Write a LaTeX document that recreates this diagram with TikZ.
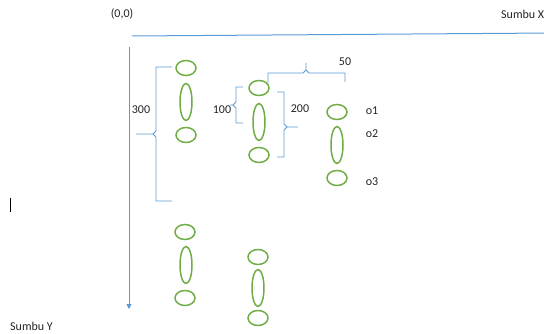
\documentclass[tikz,border=0pt]{standalone}
\usepackage{fontspec}
\setmainfont{Carlito}
\usetikzlibrary{shapes.geometric,arrows.meta}
\definecolor{axisblue}{RGB}{91,155,213}
\definecolor{ovalgreen}{RGB}{112,173,71}
\definecolor{txt}{RGB}{35,35,35}
\begin{document}
\begin{tikzpicture}[x=1pt,y=-1pt,
  circ/.style={draw=ovalgreen,line width=1.5pt,ellipse,minimum width=20pt,minimum height=15pt,inner sep=0pt},
  tall/.style={draw=ovalgreen,line width=1.5pt,ellipse,minimum width=12pt,minimum height=37pt,inner sep=0pt},
  brk/.style={draw=axisblue,line width=0.9pt,line join=round},
  axis/.style={draw=axisblue,line width=1pt,-{Triangle[length=5pt,width=5pt]}},
  lbl/.style={text=txt,font=\fontsize{12}{14}\selectfont,inner sep=0pt}]
\useasboundingbox (0,0) rectangle (544,334);
% axes
\coordinate (xs) at (132,36);
\coordinate (xe) at (552,33);
\coordinate (ys) at (129,47);
\coordinate (ye) at (129,309);
\draw[axis] (xs) -- (xe);
\draw[axis] (ys) -- (ye);
% labels
\node[lbl] (origin) at (122,14) {(0,0)};
\node[lbl,anchor=west] (sx) at (501,14) {Sumbu X};
\node[lbl,anchor=west] (sy) at (10,326) {Sumbu Y};
\node[lbl] (l300) at (141,110) {300};
\node[lbl] (l100) at (222,110) {100};
\node[lbl] (l200) at (300,109) {200};
\node[lbl] (l50) at (345,62) {50};
\node[lbl] (o1) at (372,111) {o1};
\node[lbl] (o2) at (372,134) {o2};
\node[lbl] (o3) at (372,182) {o3};
% cursor
\coordinate (cu1) at (10,198);
\coordinate (cu2) at (10,212);
\draw[black,line width=0.8pt] (cu1) -- (cu2);
% column 1 (upper)
\node[circ] (a1) at (186,68) {};
\node[tall] (a2) at (186,102) {};
\node[circ] (a3) at (186,135) {};
% column 1 (lower)
\node[circ] (b1) at (185,232) {};
\node[tall] (b2) at (186,265) {};
\node[circ] (b3) at (185,298) {};
% column 2 (upper)
\node[circ] (c1) at (259,88) {};
\node[tall] (c2) at (259,122) {};
\node[circ] (c3) at (259,155) {};
% column 2 (lower)
\node[circ] (d1) at (258,257) {};
\node[tall] (d2) at (258,288) {};
\node[circ] (d3) at (258,318) {};
% column 3
\node[circ] (e1) at (337,112) {};
\node[tall] (e2) at (337,145) {};
\node[circ] (e3) at (337,178) {};
% bracket 300
\draw[brk] (172,67) -- (156,67) -- (156,131) -- (153,134) -- (136,134);
\draw[brk] (153,134) -- (156,137) -- (156,201) -- (172,201);
% bracket 100
\draw[brk] (243,87) -- (236,87) -- (236,102) -- (233,105) -- (230,105);
\draw[brk] (233,105) -- (236,108) -- (236,123) -- (243,123);
% bracket 200
\draw[brk] (277,92) -- (284,92) -- (284,124) -- (287,127) -- (298,127);
\draw[brk] (287,127) -- (284,130) -- (284,157) -- (277,157);
% bracket 50
\draw[brk] (268,83) -- (268,73) -- (303,73) -- (306,70) -- (306,63);
\draw[brk] (306,70) -- (309,73) -- (345,73) -- (345,82);
\end{tikzpicture}
\end{document}
